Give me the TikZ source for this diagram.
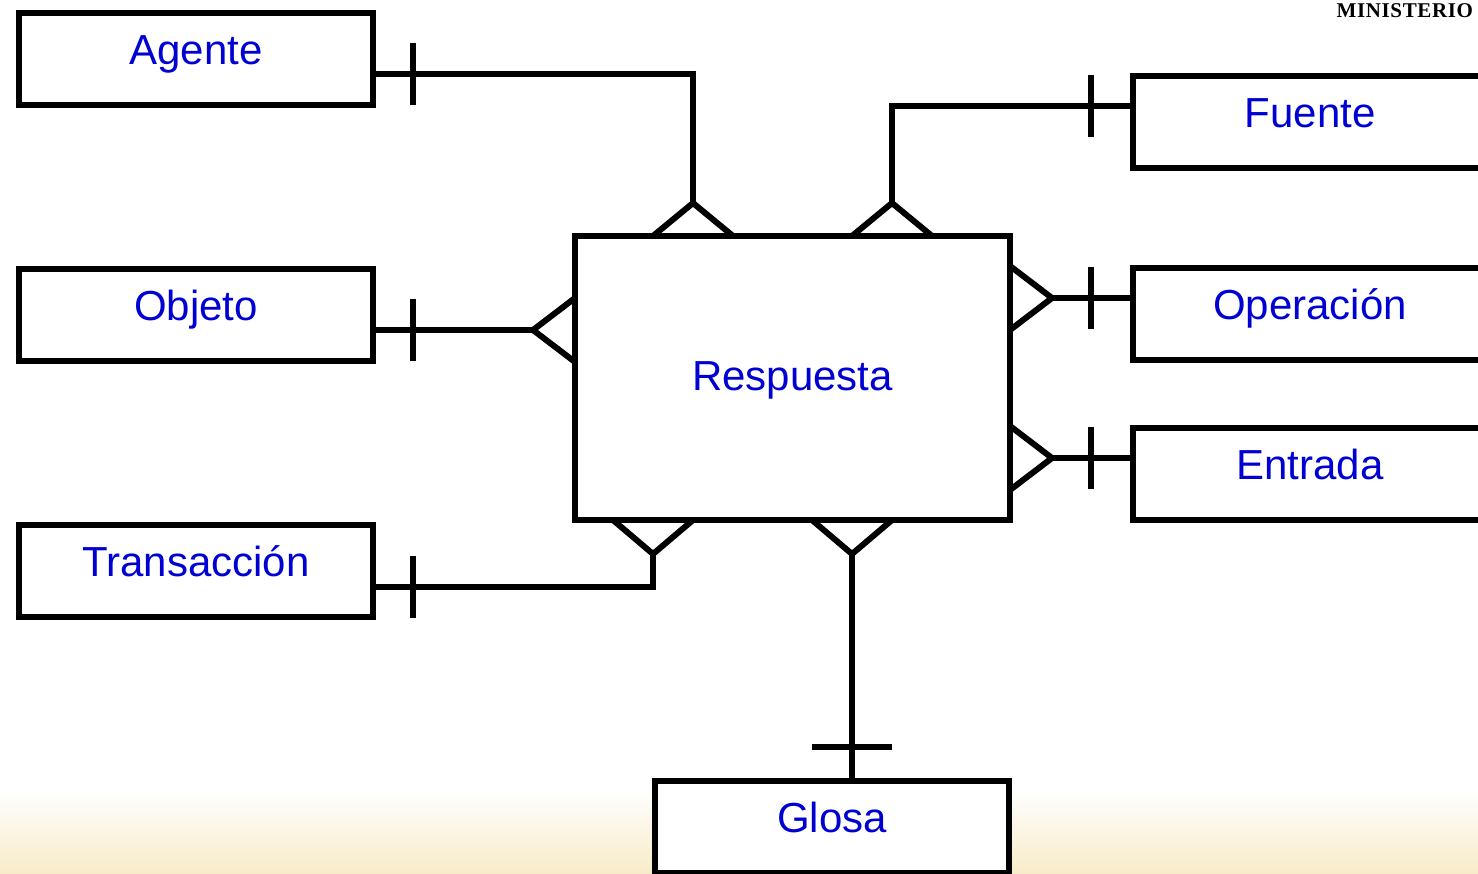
\documentclass[tikz,border=0pt]{standalone}
\usepackage{fontspec}
\setmainfont{Liberation Sans}
\newfontfamily\ministeriofont[LetterSpace=3]{Liberation Serif}
\usetikzlibrary{positioning}
\definecolor{etiqueta}{RGB}{0,0,210}
\definecolor{arena}{RGB}{247,235,200}

\begin{document}
\begin{tikzpicture}[x=0.5pt,y=-0.5pt,line width=3pt,
    entidad/.style={rectangle,draw,anchor=north west,inner sep=0pt,outer sep=0pt,minimum width=177pt,minimum height=46pt,text height=13pt,text depth=8pt,font=\fontsize{21}{25}\selectfont,text=etiqueta}]
    \useasboundingbox (0,0) rectangle (1478,873);
    \shade[top color=white,bottom color=arena] (0,790) rectangle (1478,873);

    \node[entidad] (agente) at (19,13) {Agente};
    \node[entidad] (objeto) at (19,269) {Objeto};
    \node[entidad] (transaccion) at (19,525) {Transacción};
    \node[entidad] (fuente) at (1133,76) {Fuente};
    \node[entidad] (operacion) at (1133,268) {Operación};
    \node[entidad] (entrada) at (1133,428) {Entrada};
    \node[entidad,fill=white] (glosa) at (655,781) {Glosa};
    \node[entidad,minimum width=217.5pt,minimum height=142pt,text height=15pt,text depth=3pt] (respuesta) at (575,236) {Respuesta};
    \node[anchor=north east,inner sep=0pt,font=\ministeriofont\bfseries\fontsize{10.5}{12}\selectfont] (ministerio) at (1476,1) {MINISTERIO};

    \coordinate (ca) at (693,74);
    \coordinate (pa) at (693,203);
    \coordinate (cf) at (892,106);
    \coordinate (pf) at (892,203);
    \coordinate (po) at (533,330);
    \coordinate (pop) at (1052,298);
    \coordinate (pe) at (1052,458);
    \coordinate (ct) at (653,587);
    \coordinate (pt) at (653,554);
    \coordinate (pg) at (852,554);

    % lado izquierdo
    \draw (ca -| agente.east) -- (ca) -- (pa);
    \draw ([xshift=20pt]ca -| agente.east) ++(0,-31) -- ++(0,62);
    \draw ([xshift=-20pt]pa |- respuesta.north) -- (pa) -- ([xshift=20pt]pa |- respuesta.north);

    \draw (po -| objeto.east) -- (po);
    \draw ([xshift=20pt]po -| objeto.east) ++(0,-31) -- ++(0,62);
    \draw ([yshift=16pt]po -| respuesta.west) -- (po) -- ([yshift=-16pt]po -| respuesta.west);

    \draw (ct -| transaccion.east) -- (ct) -- (pt);
    \draw ([xshift=20pt]ct -| transaccion.east) ++(0,-31) -- ++(0,62);
    \draw ([xshift=-20pt]pt |- respuesta.south) -- (pt) -- ([xshift=20pt]pt |- respuesta.south);

    % lado derecho
    \draw (cf -| fuente.west) -- (cf) -- (pf);
    \draw ([xshift=-21pt]cf -| fuente.west) ++(0,-31) -- ++(0,62);
    \draw ([xshift=-20pt]pf |- respuesta.north) -- (pf) -- ([xshift=20pt]pf |- respuesta.north);

    \draw (pop -| operacion.west) -- (pop);
    \draw ([xshift=-21pt]pop -| operacion.west) ++(0,-31) -- ++(0,62);
    \draw ([yshift=16pt]pop -| respuesta.east) -- (pop) -- ([yshift=-16pt]pop -| respuesta.east);

    \draw (pe -| entrada.west) -- (pe);
    \draw ([xshift=-21pt]pe -| entrada.west) ++(0,-31) -- ++(0,62);
    \draw ([yshift=16pt]pe -| respuesta.east) -- (pe) -- ([yshift=-16pt]pe -| respuesta.east);

    % abajo
    \draw (glosa.north -| pg) -- (pg);
    \draw ([yshift=17pt]glosa.north -| pg) ++(-40,0) -- ++(80,0);
    \draw ([xshift=-20pt]pg |- respuesta.south) -- (pg) -- ([xshift=20pt]pg |- respuesta.south);
\end{tikzpicture}
\end{document}
